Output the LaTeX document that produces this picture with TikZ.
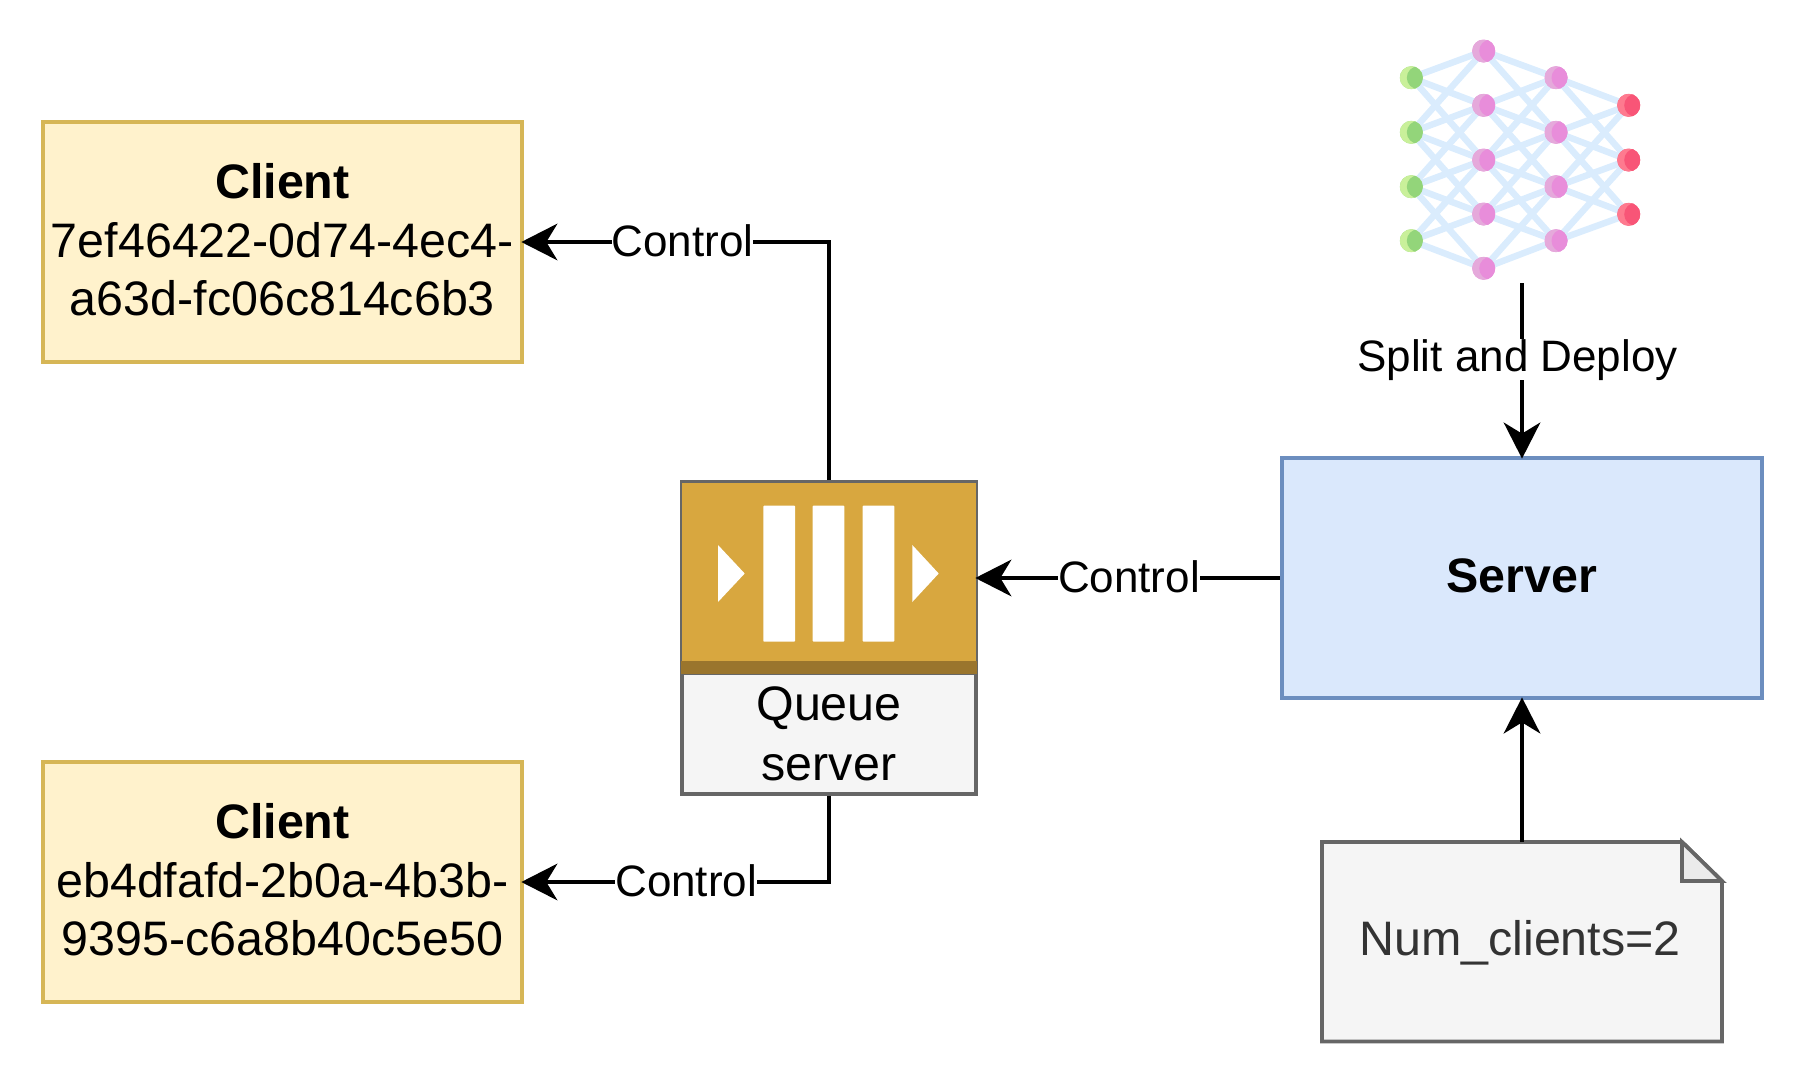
\documentclass[tikz,border=0pt]{standalone}
\usepackage{fontspec}
\setmainfont{Liberation Sans}
\usetikzlibrary{arrows.meta,calc,backgrounds}
\definecolor{clientfill}{HTML}{FFF2CC}
\definecolor{clientline}{HTML}{D6B656}
\definecolor{serverfill}{HTML}{DAE8FC}
\definecolor{serverline}{HTML}{6C8EBF}
\definecolor{grayfill}{HTML}{F5F5F5}
\definecolor{grayline}{HTML}{666666}
\definecolor{gold}{HTML}{D8A73F}
\definecolor{golddark}{HTML}{9A752D}
\definecolor{foldfill}{HTML}{EBEBEB}
\definecolor{netline}{HTML}{DAECFD}
\definecolor{gbase}{HTML}{93D57A}\definecolor{glight}{HTML}{C9F09A}
\definecolor{pbase}{HTML}{E88DDA}\definecolor{plight}{HTML}{E5A9DB}
\definecolor{rbase}{HTML}{F85577}\definecolor{rlight}{HTML}{FE7A8F}
\newcommand{\liftrule}{\rule[-5pt]{0pt}{5pt}}
\tikzset{
  x=1pt,y=-1pt,
  bigtext/.style={font=\fontsize{48.4}{58.5}\selectfont,align=center},
  boxbase/.style={draw,line width=3.8pt,inner sep=0pt,bigtext},
  clientbox/.style={boxbase,fill=clientfill,draw=clientline,minimum width=479pt,minimum height=239.5pt},
  serverbox/.style={boxbase,fill=serverfill,draw=serverline,minimum width=480pt,minimum height=240pt},
  conn/.style={line width=4.2pt,black,shorten >=-2.5pt,-{Stealth[length=36pt,width=36.5pt,inset=11pt]}},
  connlabel/.style={fill=white,inner sep=0pt,yshift=1pt,font=\fontsize{44}{52}\selectfont},
  neuron/.style={circle,minimum size=23pt,inner sep=0pt,fill=#1base,path picture={
     \fill[#1light] (path picture bounding box.south west) rectangle (path picture bounding box.north east);
     \fill[#1base] ($(path picture bounding box.center)+(7pt,0)$) circle[radius=11.5pt];}},
  netedge/.style={line width=6.5pt,netline},
  bar/.style={fill=white,rounded corners=0.8pt},
}
\begin{document}
\begin{tikzpicture}
\useasboundingbox (0,0) rectangle (1808,1084);

% neural network
\foreach \i/\y in {1/77.7,2/132.3,3/186.7,4/240.7}{
  \node[neuron=g] (a\i) at (1411.3,\y) {};
  \node[neuron=p] (c\i) at (1556,\y) {};
}
\foreach \i/\y in {1/51,2/105.3,3/160,4/214,5/268.3}{
  \node[neuron=p] (b\i) at (1483.7,\y) {};
}
\foreach \i/\y in {1/105.3,2/160,3/214.3}{
  \node[neuron=r] (d\i) at (1628.7,\y) {};
}
\begin{scope}[on background layer]
\foreach \s/\t in {a1/b1,a1/b2,a1/b3,a2/b1,a2/b2,a2/b3,a2/b4,a3/b2,a3/b3,a3/b4,a3/b5,a4/b3,a4/b4,a4/b5,
  c1/b1,c1/b2,c1/b3,c2/b1,c2/b2,c2/b3,c2/b4,c3/b2,c3/b3,c3/b4,c3/b5,c4/b3,c4/b4,c4/b5,
  c1/d1,c1/d2,c2/d1,c2/d2,c2/d3,c3/d1,c3/d2,c3/d3,c4/d2,c4/d3}{
  \draw[netedge] (\s.center) -- (\t.center);
}
\end{scope}

% clients
\node[clientbox] (client1) at (282.4,242) {\textbf{Client}\\7ef46422-0d74-4ec4-\\a63d-fc06c814c6b3\liftrule};
\node[clientbox] (client2) at (282.4,882) {\textbf{Client}\\eb4dfafd-2b0a-4b3b-\\9395-c6a8b40c5e50\liftrule};

% server
\node[serverbox] (server) at (1522,578) {\textbf{Server}\liftrule};

% queue
\node[boxbase,fill=grayfill,draw=grayline,minimum width=294pt,minimum height=312pt] (queue) at (829,638) {};
\node[fill=gold,draw=grayline,line width=1.6pt,minimum width=296pt,minimum height=192pt,inner sep=0pt,anchor=north] (qicon) at (829,481) {};
\fill[golddark] (681,661) rectangle (977,674);
\fill[bar] (763.3,505.7) rectangle (795,641.7);
\fill[bar] (812.7,505.7) rectangle (844.3,641.7);
\fill[bar] (862.7,505.7) rectangle (894.3,641.7);
\fill[white] (718,545) -- (744.7,573.5) -- (718,602) -- cycle;
\fill[white] (912.3,545) -- (938.7,573.5) -- (912.3,602) -- cycle;
\node[bigtext,inner sep=0pt] (qlabel) at (829,734) {Queue\\[1.5pt]server};

% note
\draw[grayline,fill=grayfill,line width=3.8pt,line join=miter] (1322,842) -- (1682,842) -- (1722,881) -- (1722,1041.5) -- (1322,1041.5) -- cycle;
\draw[grayline,fill=foldfill,line width=3.8pt,line join=miter] (1682,842) -- (1682,881) -- (1722,881) -- cycle;
\node[bigtext,text=black!80,inner sep=0pt] (note) at (1520,943) {Num\_clients=2};
\coordinate (notetop) at (1522,842);
\coordinate (netout) at (1522,283);

% connectors
\draw[conn] (queue.north) |- (client1.east) node[connlabel,pos=0.74] {Control};
\draw[conn] (queue.south) |- (client2.east) node[connlabel,pos=0.734] {Control};
\draw[conn] (server.west) -- (server.west -| qicon.east) node[connlabel,pos=0.5] {Control};
\draw[conn] (netout) -- (server.north) node[connlabel,pos=0.449,xshift=-4.5pt] {Split and Deploy};
\draw[conn] (notetop) -- (server.south);
\end{tikzpicture}
\end{document}
